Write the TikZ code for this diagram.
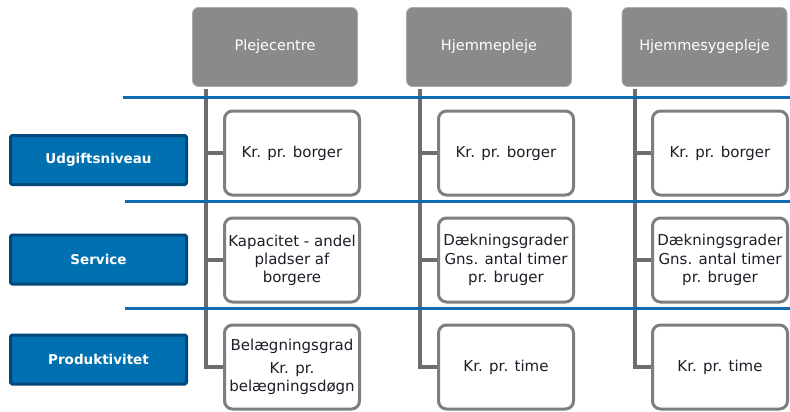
\documentclass[tikz,border=0pt]{standalone}
\usepackage{fontspec}
\setmainfont{DejaVu Sans}

\definecolor{hovedgraa}{RGB}{136,138,140}
\definecolor{hovedkant}{RGB}{170,172,174}
\definecolor{feltkant}{RGB}{125,126,128}
\definecolor{stammegraa}{RGB}{108,109,112}
\definecolor{skilleblaa}{RGB}{16,108,178}
\definecolor{katblaa}{RGB}{0,112,176}
\definecolor{katkant}{RGB}{0,72,122}
\definecolor{tekst}{RGB}{30,30,40}

\begin{document}
\begin{tikzpicture}[x=1pt, y=-1pt, line join=round,
  hoved/.style={draw=hovedkant, line width=0.8pt, fill=hovedgraa, rounded corners=6pt,
    minimum width=165pt, minimum height=79pt, text=white,
    font=\fontsize{14.5}{17}\selectfont},
  felt/.style={draw=feltkant, line width=3pt, fill=white, rounded corners=8pt,
    minimum width=135pt, minimum height=84pt, align=center, text=tekst,
    font=\fontsize{15}{18}\selectfont},
  kategori/.style={draw=katkant, line width=3pt, fill=katblaa, rounded corners=1.5pt,
    minimum width=176pt, minimum height=49pt, text=white,
    font=\fontsize{13.5}{16}\selectfont\bfseries},
  stamme/.style={draw=stammegraa, line width=4.5pt, line join=miter},
  skille/.style={draw=skilleblaa, line width=3pt}]

\useasboundingbox (0,0) rectangle (790,412);

\begin{scope}[shift={(0,0)}]
\node[hoved] (pc) at (275,47) {Plejecentre};
\node[felt] (pc1) at (292,153) {Kr. pr. borger};
\node[felt] (pc2) at (292,260) {Kapacitet - andel\\pladser af\\borgere};
\node[felt] (pc3) at (292,367) {Belægningsgrad\\[5pt]Kr. pr.\\belægningsdøgn};
\coordinate (pc0) at (206,89);
\draw[stamme] (pc0) |- (pc3.west);
\draw[stamme] (pc0 |- pc1.west) -- (pc1.west);
\draw[stamme] (pc0 |- pc2.west) -- (pc2.west);
\end{scope}

%---------------------------------------------------------------------------------------------------
\begin{scope}[shift={(214,0)}]
\node[hoved] (hp) at (275,47) {Hjemmepleje};
\node[felt] (hp1) at (292,153) {Kr. pr. borger};
\node[felt] (hp2) at (292,260) {Dækningsgrader\\[1pt]Gns. antal timer\\pr. bruger};
\node[felt] (hp3) at (292,367) {Kr. pr. time};
\coordinate (hp0) at (206,89);
\draw[stamme] (hp0) |- (hp3.west);
\draw[stamme] (hp0 |- hp1.west) -- (hp1.west);
\draw[stamme] (hp0 |- hp2.west) -- (hp2.west);
\end{scope}

%---------------------------------------------------------------------------------------------------
\begin{scope}[shift={(429,0)}]
\node[hoved] (hs) at (275.5,47) {Hjemmesygepleje};
\node[felt] (hs1) at (291,153) {Kr. pr. borger};
\node[felt] (hs2) at (291,260) {Dækningsgrader\\[1pt]Gns. antal timer\\pr. bruger};
\node[felt] (hs3) at (291,367) {Kr. pr. time};
\coordinate (hs0) at (206,89);
\draw[stamme] (hs0) |- (hs3.west);
\draw[stamme] (hs0 |- hs1.west) -- (hs1.west);
\draw[stamme] (hs0 |- hs2.west) -- (hs2.west);
\end{scope}

%---------------------------------------------------------------------------------------------------
\draw[skille] (123,97) -- (790,97);
\draw[skille] (125,201) -- (790,201);
\draw[skille] (125,308) -- (790,308);

\node[kategori] (udg) at (98.5,160) {Udgiftsniveau};
\node[kategori] (srv) at (98.5,259.5) {Service};
\node[kategori] (prd) at (98.5,359.5) {Produktivitet};

\end{tikzpicture}
\end{document}
